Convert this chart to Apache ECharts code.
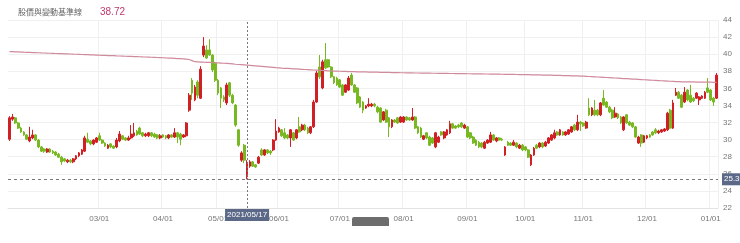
<!DOCTYPE html>
<html><head><meta charset="utf-8">
<script src="https://cdn.jsdelivr.net/npm/echarts@6/dist/echarts.min.js"></script>
<style>html,body{margin:0;padding:0;background:#fff}#c{width:740px;height:243px}</style>
</head><body><div id="c"></div>
<script>
// Trading-day categories: weekdays from start to end minus exchange holidays
const startDate = '2021-01-06';
const endDate = '2022-01-05';
const holidays = ['2021-02-08','2021-02-09','2021-02-10','2021-02-11','2021-02-12','2021-02-15','2021-02-16',
  '2021-03-01','2021-04-02','2021-04-05','2021-04-30','2021-06-14','2021-09-20','2021-09-21','2021-10-11','2021-12-31'];
const firstLabelMonth = '2021/03';

const openPrices = [
30.05,32.40,32.55,31.95,31.35,30.90,30.55,29.85,30.20,30.55,29.95,29.15,28.90,28.55,28.90,28.65,28.55,28.30,27.95,27.75,
27.40,27.60,27.40,27.75,28.10,28.30,28.65,30.05,29.85,29.50,29.70,30.45,29.95,29.60,29.00,29.50,29.25,29.15,29.85,30.45,
30.20,29.95,30.20,30.45,31.00,31.35,30.80,30.45,30.45,30.80,30.65,30.55,30.20,30.55,30.45,30.20,30.55,30.30,30.80,30.65,
30.30,30.45,33.45,36.95,34.65,36.75,34.85,39.90,40.50,40.50,39.90,38.95,36.95,36.05,35.00,34.30,36.65,35.20,34.05,31.15,
27.60,29.35,25.65,26.90,27.40,27.05,27.25,28.80,28.20,28.80,28.65,28.80,29.95,30.90,31.15,30.80,30.55,30.20,30.80,30.20,
31.50,31.15,31.70,31.35,30.80,31.50,34.40,38.50,36.05,39.35,39.35,38.50,37.35,37.20,37.00,36.40,35.55,35.80,37.55,36.40,
36.05,35.00,34.40,33.70,33.95,33.95,34.15,33.80,33.70,32.30,33.45,32.55,31.50,32.30,32.55,32.05,32.05,32.65,32.55,32.30,
32.65,31.50,31.35,30.05,30.80,30.30,30.20,29.15,29.70,30.90,30.20,30.55,30.80,31.85,31.60,31.70,31.95,31.35,31.50,30.80,
30.30,29.95,29.70,29.60,29.00,29.60,29.70,30.55,29.85,30.20,30.05,28.20,29.70,29.60,29.35,29.60,29.00,29.35,29.15,28.80,
27.05,28.20,29.35,29.15,29.60,29.25,29.60,29.95,30.20,30.90,30.55,30.90,30.55,30.65,30.90,31.70,31.15,32.05,31.95,31.35,
33.70,32.90,33.45,33.45,32.90,34.85,34.40,33.80,33.45,32.65,33.00,32.65,31.15,32.90,32.05,31.95,31.50,29.60,30.55,29.70,
30.20,30.55,30.90,31.15,30.80,30.90,31.00,31.15,33.45,31.35,35.20,35.55,35.20,34.40,35.80,35.20,34.85,34.85,34.65,34.85,
34.85,36.05,35.80,34.85,34.85];
const closePrices = [
32.55,32.65,31.95,31.35,30.90,30.55,30.05,30.30,30.55,29.95,29.15,28.65,28.65,28.90,28.55,28.45,28.20,27.95,27.40,27.50,
27.60,27.40,27.75,28.10,28.45,28.80,30.20,29.70,29.50,29.95,30.20,29.95,29.60,29.25,29.35,29.15,29.00,29.95,30.65,30.05,
29.95,30.20,30.65,30.80,30.55,30.65,30.45,30.65,30.80,30.45,30.30,30.20,30.45,30.30,30.20,30.55,30.30,30.80,30.30,30.05,
30.55,31.95,35.20,35.45,36.15,35.20,38.25,40.95,39.55,39.90,38.15,36.95,35.45,34.85,34.65,36.40,35.20,34.30,31.70,29.35,
28.45,27.60,27.25,27.40,26.90,26.80,27.95,28.20,28.80,28.45,28.45,29.95,31.00,31.35,30.45,30.20,30.20,31.15,29.95,31.15,
30.90,31.70,31.15,30.80,31.50,34.40,37.80,37.35,39.10,38.40,38.50,37.35,36.65,36.40,36.15,35.20,36.40,37.20,36.40,35.55,
34.30,33.80,33.45,33.95,34.15,34.15,33.95,33.25,32.05,33.25,32.05,31.50,32.30,32.05,31.95,32.65,32.65,32.30,32.30,32.65,
31.35,30.80,30.30,30.45,30.20,29.35,29.60,30.80,30.30,30.55,30.90,31.15,31.85,31.35,31.35,31.50,31.50,31.70,30.30,30.20,
29.60,29.35,29.15,29.15,29.70,29.95,30.55,29.95,30.20,29.95,29.95,29.15,29.35,29.35,29.70,29.15,29.35,28.80,28.80,27.95,
28.20,29.00,29.00,29.60,29.15,29.70,30.20,30.55,30.80,30.55,31.15,30.55,30.90,31.15,31.50,31.15,32.05,31.85,31.60,32.05,
32.90,33.70,32.90,32.90,34.30,34.05,33.80,33.25,32.55,33.10,32.55,31.95,32.65,31.95,31.70,31.50,30.30,30.30,29.60,30.45,
30.45,30.30,30.55,30.80,31.00,31.15,31.25,33.10,31.35,34.30,35.55,34.85,33.80,35.55,34.65,34.40,34.55,35.45,35.00,35.10,
35.55,35.55,34.65,34.40,37.55];
const lowPrices = [
29.85,32.20,31.85,31.25,30.80,30.45,29.95,29.70,30.05,29.85,29.00,28.55,28.45,28.45,28.45,28.30,28.10,27.85,27.05,27.40,
27.25,27.25,27.25,27.60,27.95,28.20,28.55,29.60,29.35,29.35,29.60,29.85,29.50,29.15,28.90,29.00,28.90,29.00,29.70,29.95,
29.85,29.85,30.05,30.30,30.45,30.55,30.30,30.30,30.30,30.30,30.20,30.05,30.05,30.20,30.05,30.05,30.20,30.20,29.60,29.35,
30.20,30.30,33.25,34.65,34.50,34.85,34.75,39.65,39.45,39.80,37.90,36.75,35.20,33.70,34.40,34.05,35.00,34.15,31.50,29.15,
27.40,27.25,25.35,26.70,26.80,26.70,27.15,28.10,28.10,28.30,28.20,28.65,29.85,30.80,30.30,30.05,30.05,29.15,29.85,30.05,
30.80,31.00,31.00,30.65,30.65,31.35,34.30,37.10,35.90,38.25,38.40,37.20,36.50,36.30,36.05,35.10,35.45,35.70,36.30,35.45,
34.15,33.70,33.10,33.60,33.80,33.80,33.80,33.10,31.95,32.20,31.95,30.30,31.35,31.95,31.85,31.95,31.95,32.20,32.20,32.20,
31.25,30.65,30.20,29.95,30.05,29.25,29.50,29.00,29.60,30.45,30.05,30.45,30.65,31.25,31.25,31.35,31.35,31.25,30.20,30.05,
29.50,29.25,29.00,29.00,28.90,29.50,29.60,29.85,29.70,29.85,29.85,28.10,29.25,29.25,29.25,29.00,28.90,28.65,28.65,27.85,
26.90,28.10,28.90,29.00,29.00,29.15,29.50,29.85,30.05,30.45,30.45,30.45,30.45,30.55,30.80,31.00,31.00,31.00,31.50,31.25,
32.75,32.75,32.75,32.75,32.75,33.95,33.70,33.10,32.40,32.55,32.40,31.85,31.00,31.85,31.60,31.35,30.20,29.50,29.15,29.60,
30.05,30.20,30.45,30.65,30.65,30.80,30.90,31.00,31.25,31.25,35.10,34.75,33.70,34.30,34.50,34.30,34.40,34.75,34.05,34.75,
34.75,35.45,34.50,33.95,34.75];
const highPrices = [
32.75,33.00,32.65,32.05,31.50,31.00,30.65,31.50,31.15,30.65,30.05,29.25,29.00,29.00,29.00,28.80,28.65,28.45,28.10,27.85,
27.75,27.75,27.85,28.20,28.55,28.90,30.45,30.80,29.95,30.05,30.30,30.80,30.05,29.70,29.50,29.60,29.35,30.20,31.00,30.55,
30.30,30.45,31.70,31.95,31.15,31.50,30.90,30.80,30.90,30.90,30.80,30.65,30.65,30.65,30.55,30.65,30.65,31.35,30.90,30.80,
30.65,32.05,35.45,37.20,36.40,36.95,38.60,42.00,41.05,41.75,40.00,39.10,37.10,36.15,35.20,36.65,36.75,35.35,34.15,31.25,
28.65,29.50,27.60,27.60,27.50,27.15,28.10,29.00,28.90,28.90,28.80,30.05,32.40,31.50,31.25,31.35,30.65,31.25,30.90,31.25,
32.65,31.85,31.85,31.50,31.60,34.65,38.05,39.90,39.35,41.30,39.45,38.60,37.45,37.35,37.10,36.50,36.50,37.45,37.80,36.50,
36.15,35.10,34.50,34.05,34.85,34.30,34.30,33.95,33.80,33.35,33.60,32.65,32.40,32.40,32.65,32.75,32.75,32.75,32.65,33.70,
32.75,31.60,31.50,30.55,30.90,30.45,30.30,30.90,30.45,31.00,31.00,31.25,32.20,31.95,31.70,31.85,32.05,31.85,31.60,30.90,
30.45,30.05,29.85,29.70,29.85,30.05,30.90,30.65,30.30,30.30,30.20,29.25,29.85,29.70,29.95,29.70,29.50,29.50,29.25,28.90,
28.30,29.15,29.50,29.70,29.70,29.85,30.30,30.65,31.15,31.00,31.25,31.00,31.00,31.25,31.60,31.85,32.90,32.20,32.05,32.20,
34.85,33.80,34.65,33.60,34.40,35.80,34.50,33.95,33.60,33.80,33.10,32.75,32.75,33.00,32.20,32.05,31.60,30.45,30.65,30.55,
30.55,30.65,31.00,31.35,31.15,31.25,31.35,33.25,33.60,34.65,36.05,35.70,35.35,36.15,35.90,36.40,35.00,35.55,35.10,35.20,
35.70,37.20,35.90,35.00,37.80];
const baseLine = [
40.30,40.29,40.27,40.26,40.25,40.23,40.22,40.21,40.19,40.18,40.17,40.15,40.14,40.12,40.11,40.10,40.08,40.07,40.06,40.04,
40.03,40.02,40.00,39.99,39.98,39.96,39.95,39.94,39.92,39.91,39.90,39.88,39.87,39.86,39.84,39.83,39.82,39.80,39.79,39.78,
39.76,39.75,39.74,39.72,39.71,39.70,39.68,39.67,39.66,39.64,39.63,39.61,39.60,39.58,39.56,39.55,39.53,39.51,39.49,39.47,
39.45,39.42,39.38,39.25,39.12,39.10,39.08,39.06,39.05,39.03,39.01,39.00,38.98,38.96,38.94,38.92,38.89,38.86,38.82,38.79,
38.77,38.75,38.72,38.69,38.66,38.63,38.60,38.57,38.54,38.51,38.48,38.45,38.42,38.40,38.37,38.35,38.33,38.31,38.29,38.27,
38.25,38.23,38.21,38.19,38.17,38.15,38.13,38.11,38.09,38.07,38.05,38.03,38.02,38.01,38.00,37.99,37.98,37.97,37.96,37.95,
37.94,37.93,37.93,37.92,37.91,37.90,37.90,37.89,37.88,37.87,37.87,37.86,37.85,37.85,37.84,37.83,37.83,37.82,37.81,37.81,
37.80,37.80,37.79,37.79,37.78,37.78,37.77,37.77,37.76,37.76,37.75,37.75,37.74,37.74,37.73,37.73,37.72,37.72,37.71,37.71,
37.70,37.70,37.69,37.69,37.68,37.68,37.67,37.67,37.66,37.66,37.65,37.64,37.64,37.63,37.63,37.62,37.61,37.61,37.60,37.60,
37.59,37.58,37.58,37.57,37.56,37.56,37.55,37.54,37.53,37.52,37.51,37.50,37.49,37.48,37.47,37.46,37.45,37.44,37.43,37.41,
37.39,37.37,37.35,37.33,37.31,37.29,37.27,37.25,37.23,37.21,37.19,37.17,37.15,37.13,37.11,37.09,37.07,37.05,37.03,37.01,
36.99,36.97,36.95,36.93,36.91,36.89,36.87,36.85,36.83,36.81,36.79,36.78,36.77,36.76,36.76,36.75,36.75,36.74,36.74,36.73,
36.73,36.72,36.72,36.71,36.71];

const titleText = '股價與變動基準線';
const pointerDate = '2021/05/17';
const pointerPrice = 25.36;
const yMin = 22, yMax = 44, yStep = 2;

function pad(n){return n<10?'0'+n:''+n;}
const dates = [];
(function(){
  const hs = new Set(holidays);
  let d = new Date(startDate + 'T00:00:00Z');
  const e = new Date(endDate + 'T00:00:00Z');
  while (d <= e) {
    const wd = d.getUTCDay();
    const iso = d.getUTCFullYear() + '-' + pad(d.getUTCMonth()+1) + '-' + pad(d.getUTCDate());
    if (wd !== 0 && wd !== 6 && !hs.has(iso)) dates.push(iso.replace(/-/g,'/'));
    d = new Date(d.getTime() + 86400000);
  }
})();

const candles = dates.map((d,i)=>[openPrices[i], closePrices[i], lowPrices[i], highPrices[i]]);
const isMonthStart = (idx) => idx > 0 && dates[idx].slice(5,7) !== dates[idx-1].slice(5,7) && dates[idx].slice(0,7) >= firstLabelMonth;
const pIdx = dates.indexOf(pointerDate);
const headerValue = baseLine[pIdx].toFixed(2);

const chart = echarts.init(document.getElementById('c'), null, {renderer:'canvas'});
const fontFam = '"Liberation Sans", Arial, "Noto Sans CJK TC", sans-serif';
chart.setOption({
  animation: false,
  backgroundColor: '#fff',
  textStyle: {fontFamily: fontFam},
  title: [
    {left: 13, top: 3, text: titleText, textStyle: {fontSize: 8, fontWeight: 'normal', color: '#666', fontFamily: '"Noto Sans CJK TC", sans-serif'}},
    {left: 95, top: 2, text: headerValue, textStyle: {fontSize: 10, fontWeight: 'normal', color: '#c0396b', fontFamily: fontFam}}
  ],
  axisPointer: {triggerOn: 'none'},
  grid: {left: 8, right: 22, top: 20, bottom: 35},
  xAxis: {
    type: 'category', data: dates, boundaryGap: true,
    axisLine: {lineStyle: {color: '#e3e3e3'}},
    axisTick: {show: false},
    axisLabel: {interval: (i)=>isMonthStart(i), formatter: (v)=>v.slice(5,7)+'/01', color: '#777', fontSize: 8, margin: 7},
    splitLine: {show: true, interval: (i)=>isMonthStart(i), lineStyle: {color: '#f0f0f0'}},
    axisPointer: {show: true, status: 'show', value: pointerDate, snap: false, triggerTooltip: false,
      lineStyle: {type: [2,2], color: '#777', width: 1},
      label: {show: true, backgroundColor: '#5b6888', color: '#fff', fontSize: 8, padding: [2,2,2,2], borderRadius: 0, margin: 1}}
  },
  yAxis: {
    type: 'value', position: 'right', min: yMin, max: yMax, interval: yStep,
    axisLine: {show: false}, axisTick: {show: false},
    axisLabel: {color: '#777', fontSize: 8, margin: 5},
    splitLine: {lineStyle: {color: '#f0f0f0'}}
  },
  series: [
    {type: 'candlestick', data: candles, barWidth: '78%',
      itemStyle: {color: '#d01f25', color0: '#78b823', borderColor: '#d01f25', borderColor0: '#78b823', borderWidth: 1},
      markLine: {silent: true, symbol: 'none', animation: false,
        data: [{yAxis: pointerPrice}],
        lineStyle: {type: [3,3], color: '#777', width: 1},
        label: {show: true, position: 'end', distance: 4, formatter: (p)=>Number(p.value).toFixed(2),
          backgroundColor: '#5b6888', color: '#fff', fontSize: 8, padding: [2,2,2,2]}}},
    {type: 'line', data: baseLine, symbol: 'none', smooth: false,
      lineStyle: {color: '#cf8a9c', width: 1.2}}
  ],
  graphic: [{type: 'rect', left: 352, top: 217, shape: {width: 37, height: 9, r: [2,2,0,0]}, style: {fill: '#6d6d6d'}}]
});
</script></body></html>
